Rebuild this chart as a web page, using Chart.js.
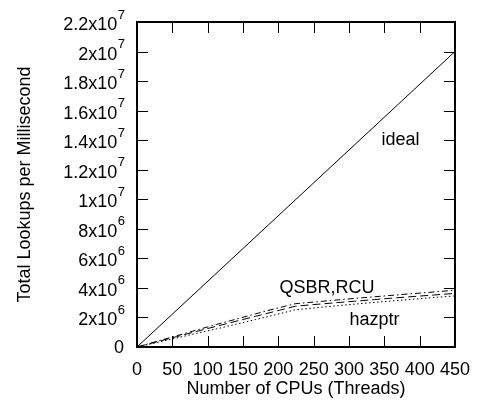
<!DOCTYPE html>
<html><head><meta charset="utf-8">
<script src="https://cdn.jsdelivr.net/npm/chart.js@4/dist/chart.umd.min.js"></script>
<style>html,body{margin:0;padding:0;background:#fff}#wrap{width:482px;height:406px}</style>
</head><body><div id="wrap"><canvas id="c" width="482" height="406"></canvas></div>
<script>
// ---- data ----
const cpus   = [1, 28, 56, 84, 112, 140, 168, 196, 224, 252, 280, 308, 336, 364, 392, 420, 448];
const qsbr   = [0.014e6, 0.38e6, 0.76e6, 1.14e6, 1.52e6, 1.88e6, 2.25e6, 2.60e6, 2.93e6, 3.05e6, 3.17e6, 3.29e6, 3.40e6, 3.51e6, 3.62e6, 3.72e6, 3.84e6];
const rcu    = [0.013e6, 0.35e6, 0.70e6, 1.05e6, 1.40e6, 1.74e6, 2.08e6, 2.42e6, 2.76e6, 2.88e6, 2.99e6, 3.10e6, 3.21e6, 3.32e6, 3.42e6, 3.52e6, 3.62e6];
const hazptr = [0.011e6, 0.30e6, 0.61e6, 0.92e6, 1.22e6, 1.54e6, 1.86e6, 2.18e6, 2.52e6, 2.65e6, 2.78e6, 2.90e6, 3.02e6, 3.13e6, 3.24e6, 3.35e6, 3.45e6];
const idealX = [0, 450];
const idealY = [0, 2e7];
const xTicks = [0, 50, 100, 150, 200, 250, 300, 350, 400, 450];
const yTicks = [0, 2e6, 4e6, 6e6, 8e6, 1e7, 1.2e7, 1.4e7, 1.6e7, 1.8e7, 2e7, 2.2e7];
const yTickMantissa = ["0", "2x10", "4x10", "6x10", "8x10", "1x10", "1.2x10", "1.4x10", "1.6x10", "1.8x10", "2x10", "2.2x10"];
const yTickExponent = ["", "6", "6", "6", "6", "7", "7", "7", "7", "7", "7", "7"];
const noteTexts = ["ideal", "QSBR,RCU", "hazptr"];
const noteX = [373, 269, 336];
const noteY = [1.40e7, 3.99e6, 1.83e6];

const FONT = "'Liberation Sans', Arial, Helvetica, sans-serif";
const FS = 18;

function pts(xs, ys) { return xs.map((x, i) => ({x: x, y: ys[i]})); }

const decor = {
  id: 'decor',
  afterDraw(chart) {
    const ctx = chart.ctx, a = chart.chartArea;
    const xs = chart.scales.x, ys = chart.scales.y;
    ctx.save();
    ctx.strokeStyle = '#000';
    ctx.lineWidth = 1;
    const TL = 11;
    ctx.beginPath();
    xTicks.forEach(v => {
      const px = Math.round(xs.getPixelForValue(v)) + 0.5;
      if (v === xs.min || v === xs.max) return;
      ctx.moveTo(px, a.bottom); ctx.lineTo(px, a.bottom - TL);
      ctx.moveTo(px, a.top); ctx.lineTo(px, a.top + TL);
    });
    yTicks.forEach(v => {
      const py = Math.round(ys.getPixelForValue(v)) + 0.5;
      if (v === ys.min || v === ys.max) return;
      ctx.moveTo(a.left, py); ctx.lineTo(a.left + TL, py);
      ctx.moveTo(a.right, py); ctx.lineTo(a.right - TL, py);
    });
    ctx.stroke();
    ctx.lineWidth = 2;
    ctx.strokeRect(a.left, a.top, a.right - a.left, a.bottom - a.top);

    // y tick labels with superscript exponents
    ctx.fillStyle = '#000';
    ctx.textBaseline = 'middle';
    const rightEdge = a.left - 12;
    yTicks.forEach((v, i) => {
      const py = ys.getPixelForValue(v);
      const m = yTickMantissa[i], e = yTickExponent[i];
      if (!e) {
        ctx.font = FS + 'px ' + FONT;
        ctx.textAlign = 'right';
        ctx.fillText(m, rightEdge - 1, py + 1);
        return;
      }
      ctx.font = '13px ' + FONT;
      const ew = ctx.measureText(e).width;
      ctx.textAlign = 'left';
      ctx.fillText(e, rightEdge - ew, py - 7);
      ctx.font = FS + 'px ' + FONT;
      ctx.textAlign = 'right';
      ctx.fillText(m, rightEdge - ew - 0.5, py + 3);
    });

    // in-plot labels
    ctx.font = FS + 'px ' + FONT;
    ctx.textAlign = 'center';
    ctx.textBaseline = 'middle';
    noteTexts.forEach((t, i) => {
      ctx.fillText(t, xs.getPixelForValue(noteX[i]), ys.getPixelForValue(noteY[i]));
    });
    ctx.restore();
  }
};

new Chart(document.getElementById('c'), {
  type: 'scatter',
  data: {
    datasets: [
      { label: 'ideal', data: pts(idealX, idealY), showLine: true, borderColor: '#000', borderWidth: 1, pointRadius: 0, fill: false },
      { label: 'QSBR', data: pts(cpus, qsbr), showLine: true, borderColor: '#000', borderWidth: 1, borderDash: [6, 3, 1.5, 3], pointRadius: 0, fill: false },
      { label: 'RCU', data: pts(cpus, rcu), showLine: true, borderColor: '#000', borderWidth: 1, borderDash: [8, 4], pointRadius: 0, fill: false },
      { label: 'hazptr', data: pts(cpus, hazptr), showLine: true, borderColor: '#000', borderWidth: 1, borderDash: [1.5, 2.5], pointRadius: 0, fill: false }
    ]
  },
  options: {
    responsive: false,
    devicePixelRatio: 1,
    animation: false,
    layout: { padding: { top: 22, right: 21, left: 0, bottom: 0 } },
    plugins: { legend: { display: false }, tooltip: { enabled: false } },
    scales: {
      x: {
        type: 'linear', min: 0, max: 450,
        afterBuildTicks: s => { s.ticks = xTicks.map(v => ({ value: v })); },
        afterFit: s => { s.height = 59; },
        grid: { display: false, drawTicks: false },
        border: { display: false },
        ticks: { color: '#000', font: { family: FONT, size: FS }, padding: 12, maxRotation: 0, autoSkip: false },
        title: { display: true, text: 'Number of CPUs (Threads)', color: '#000', font: { family: FONT, size: FS }, padding: { top: 0, bottom: 6 } }
      },
      y: {
        type: 'linear', min: 0, max: 2.2e7,
        afterBuildTicks: s => { s.ticks = yTicks.map(v => ({ value: v })); },
        afterFit: s => { s.width = 137; },
        grid: { display: false, drawTicks: false },
        border: { display: false },
        ticks: { display: false },
        title: { display: true, text: 'Total Lookups per Millisecond', color: '#000', font: { family: FONT, size: FS }, padding: { top: 14, bottom: 0 } }
      }
    }
  },
  plugins: [decor]
});
</script>
</body></html>
